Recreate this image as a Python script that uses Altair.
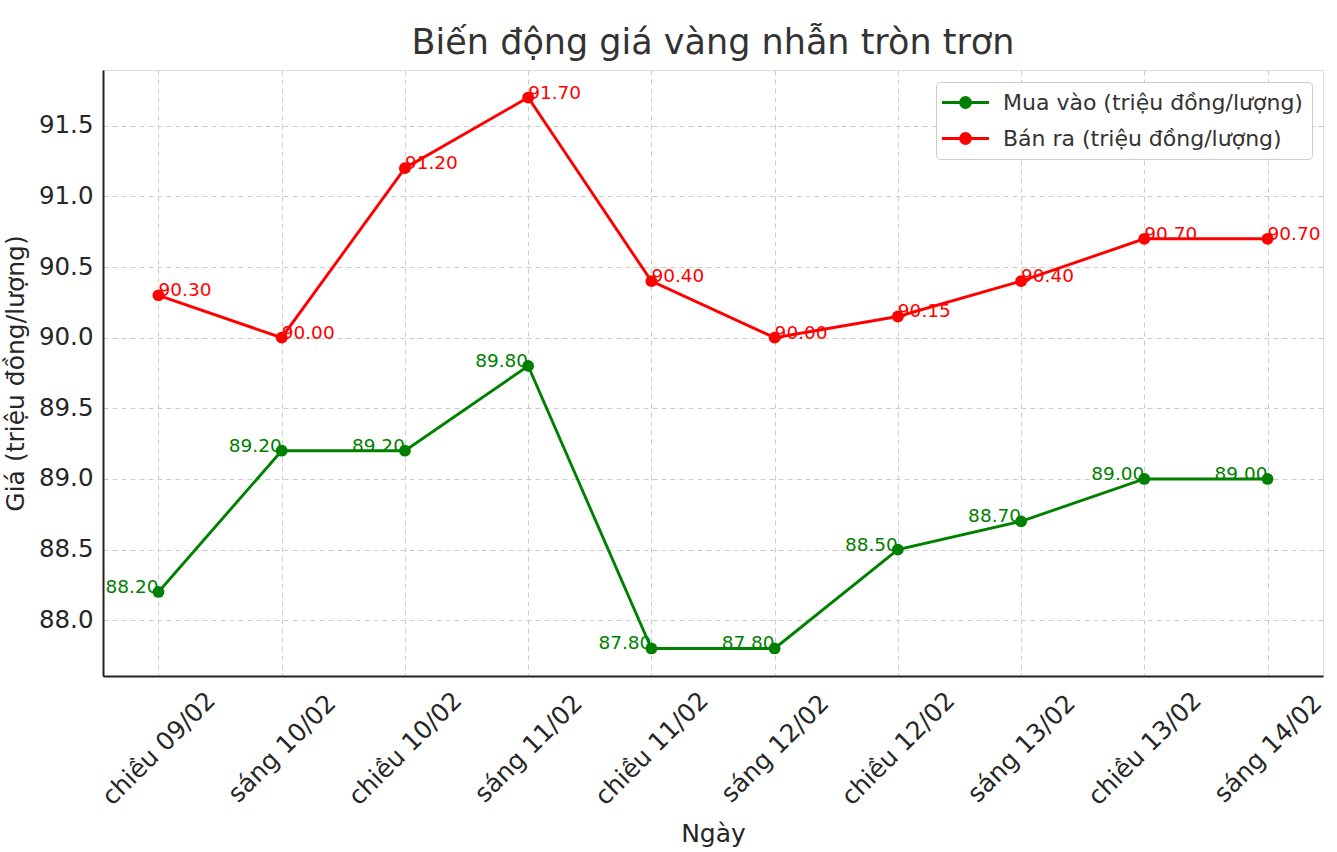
import altair as alt
import pandas as pd

days = ["chiều 09/02", "sáng 10/02", "chiều 10/02", "sáng 11/02", "chiều 11/02",
        "sáng 12/02", "chiều 12/02", "sáng 13/02", "chiều 13/02", "sáng 14/02"]
buy = [88.20, 89.20, 89.20, 89.80, 87.80, 87.80, 88.50, 88.70, 89.00, 89.00]
sell = [90.30, 90.00, 91.20, 91.70, 90.40, 90.00, 90.15, 90.40, 90.70, 90.70]
series_names = ["Mua vào (triệu đồng/lượng)", "Bán ra (triệu đồng/lượng)"]
series_colors = ["#008000", "#ff0000"]
y_ticks = [88.0, 88.5, 89.0, 89.5, 90.0, 90.5, 91.0, 91.5]

rows = []
for d, b, s in zip(days, buy, sell):
    rows.append({"day": d, "series": series_names[0], "value": b, "label": f"{b:.2f}"})
    rows.append({"day": d, "series": series_names[1], "value": s, "label": f"{s:.2f}"})
df = pd.DataFrame(rows)

FONT = "DejaVu Sans"

x_enc = alt.X(
    "day:N", sort=days,
    scale=alt.Scale(type="point", padding=0.45),
    axis=alt.Axis(
        title="Ngày", titleFontSize=25, titleFont=FONT, titleColor="#262626",
        titleFontWeight="normal", titleY=157, titleBaseline="middle",
        labelAngle=-45, labelAlign="center", labelBaseline="middle",
        labelPadding=72, labelFontSize=25, labelFont=FONT, labelColor="#262626",
        labelLimit=400, ticks=False, domainColor="#222222", domainWidth=2,
        grid=True, gridColor="#cccccc", gridDash=[5, 4], gridWidth=1,
    ),
)
y_enc = alt.Y(
    "value:Q",
    scale=alt.Scale(domain=[87.605, 91.895], nice=False, zero=False),
    axis=alt.Axis(
        title="Giá (triệu đồng/lượng)", titleFontSize=25, titleFont=FONT,
        titleColor="#262626", titleFontWeight="normal",
        titleX=-88, titleY=303, titleAngle=-90, titleAlign="center", titleBaseline="middle",
        values=y_ticks, format=".1f", labelFontSize=24.5, labelFont=FONT,
        labelColor="#262626", labelPadding=10, ticks=False,
        domainColor="#222222", domainWidth=2,
        grid=True, gridColor="#cccccc", gridDash=[5, 4], gridWidth=1,
    ),
)

legend_path = "M-2.35,0L2.35,0M-0.5,0A0.5,0.5,0,1,0,0.5,0A0.5,0.5,0,1,0,-0.5,0Z"
color_enc = alt.Color(
    "series:N",
    scale=alt.Scale(domain=series_names, range=series_colors),
    sort=series_names,
    legend=alt.Legend(
        title=None, orient="none", legendX=833, legendY=12,
        symbolType=legend_path, symbolSize=400, symbolStrokeWidth=2.8,
        symbolOffset=9, labelOffset=26, symbolOpacity=1,
        labelFont=FONT, labelFontSize=22, labelColor="#333333", labelLimit=500,
        rowPadding=13, padding=9, strokeColor="#cccccc", fillColor="white",
        cornerRadius=4,
    ),
)

base = alt.Chart(df).encode(x=x_enc, y=y_enc)

lines = base.mark_line(strokeWidth=2.9).encode(color=color_enc)
points = base.mark_point(filled=True, size=140, opacity=1).encode(color=color_enc)

green_text = base.transform_filter(alt.datum.series == series_names[0]).mark_text(
    align="right", baseline="alphabetic", dy=1, font=FONT, fontSize=18.5, color="#008000"
).encode(text="label:N")
red_text = base.transform_filter(alt.datum.series == series_names[1]).mark_text(
    align="left", baseline="alphabetic", dy=1, font=FONT, fontSize=18.5, color="#ff0000"
).encode(text="label:N")

chart = alt.layer(lines, points, green_text, red_text).properties(
    width=1220, height=606,
    title=alt.TitleParams(
        "Biến động giá vàng nhẫn tròn trơn", font=FONT, fontSize=35,
        fontWeight="normal", color="#333333", anchor="middle", frame="group",
        baseline="alphabetic", offset=13, dy=32,
    ),
    autosize=alt.AutoSizeParams(type="none"),
    padding={"left": 103, "top": 70, "right": 14, "bottom": 176},
).configure_view(stroke=None).configure(background="white")

chart.save("out.html", embed_options={"renderer": "svg", "actions": False})
